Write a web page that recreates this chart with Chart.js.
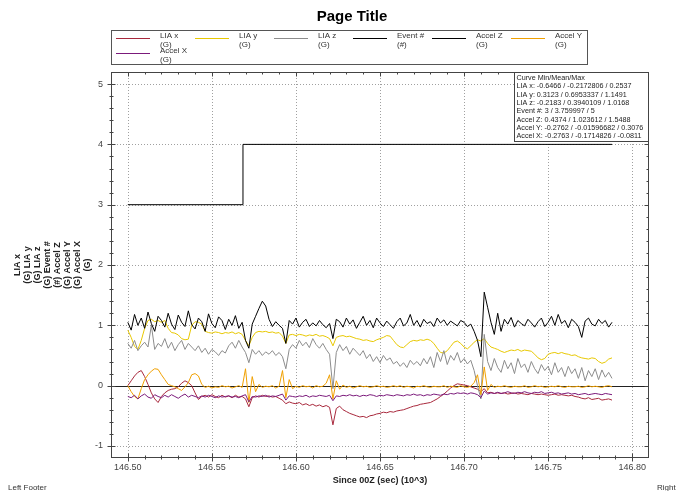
<!DOCTYPE html>
<html><head><meta charset="utf-8">
<script src="https://cdn.jsdelivr.net/npm/chart.js@4/dist/chart.umd.min.js"></script>
<style>html,body{margin:0;padding:0;background:#fff;overflow:hidden}canvas{display:block}</style>
</head><body>
<canvas id="c" width="678" height="491"></canvas>
<script>
const times = [
146.500,146.502,146.504,146.506,146.508,146.510,146.512,146.514,146.516,146.518,
146.520,146.522,146.524,146.526,146.528,146.530,146.532,146.534,146.536,146.538,
146.540,146.542,146.544,146.546,146.548,146.550,146.552,146.554,146.556,146.558,
146.560,146.562,146.564,146.566,146.568,146.570,146.572,146.574,146.576,146.578,
146.580,146.582,146.584,146.586,146.588,146.590,146.592,146.594,146.596,146.598,
146.600,146.602,146.604,146.606,146.608,146.610,146.612,146.614,146.616,146.618,
146.620,146.622,146.624,146.626,146.628,146.630,146.632,146.634,146.636,146.638,
146.640,146.642,146.644,146.646,146.648,146.650,146.652,146.654,146.656,146.658,
146.660,146.662,146.664,146.666,146.668,146.670,146.672,146.674,146.676,146.678,
146.680,146.682,146.684,146.686,146.688,146.690,146.692,146.694,146.696,146.698,
146.700,146.702,146.704,146.706,146.708,146.710,146.712,146.714,146.716,146.718,
146.720,146.722,146.724,146.726,146.728,146.730,146.732,146.734,146.736,146.738,
146.740,146.742,146.744,146.746,146.748,146.750,146.752,146.754,146.756,146.758,
146.760,146.762,146.764,146.766,146.768,146.770,146.772,146.774,146.776,146.778,
146.780,146.782,146.784,146.786,146.788];

const liaX = [
0.00,0.08,0.16,0.22,0.25,0.15,0.02,-0.12,-0.22,-0.28,
-0.18,-0.12,-0.08,-0.06,-0.05,-0.02,0.04,0.08,0.05,0.00,
-0.12,-0.23,-0.18,-0.16,-0.19,-0.15,-0.18,-0.20,-0.16,-0.19,
-0.17,-0.20,-0.16,-0.19,-0.18,-0.22,-0.35,-0.20,-0.17,-0.19,
-0.16,-0.18,-0.17,-0.19,-0.18,-0.21,-0.24,-0.30,-0.27,-0.29,
-0.30,-0.28,-0.32,-0.30,-0.33,-0.31,-0.34,-0.32,-0.35,-0.33,
-0.36,-0.65,-0.38,-0.34,-0.40,-0.43,-0.46,-0.48,-0.50,-0.52,
-0.51,-0.53,-0.50,-0.49,-0.47,-0.46,-0.44,-0.45,-0.43,-0.44,
-0.42,-0.41,-0.40,-0.38,-0.36,-0.34,-0.33,-0.31,-0.30,-0.29,
-0.28,-0.25,-0.22,-0.18,-0.14,-0.09,-0.04,0.00,0.03,0.02,
0.01,0.00,-0.02,-0.04,-0.06,-0.10,-0.05,-0.12,-0.11,-0.13,
-0.12,-0.13,-0.12,-0.14,-0.13,-0.12,-0.14,-0.13,-0.14,-0.15,
-0.13,-0.14,-0.15,-0.14,-0.15,-0.16,-0.15,-0.14,-0.16,-0.15,
-0.16,-0.17,-0.16,-0.18,-0.19,-0.21,-0.22,-0.20,-0.23,-0.22,
-0.21,-0.24,-0.23,-0.22,-0.24];

const liaY = [
0.92,0.80,0.65,0.60,0.75,0.95,1.08,1.10,1.06,1.08,
1.05,1.08,0.95,0.88,0.87,0.84,0.78,0.76,0.77,1.00,
1.06,1.05,1.02,0.90,0.88,0.87,0.89,0.88,0.86,0.88,
0.87,0.89,0.86,0.88,0.85,0.75,0.66,0.80,0.88,0.90,
0.89,0.90,0.88,0.89,0.87,0.88,0.82,0.70,0.84,0.85,
0.83,0.85,0.84,0.82,0.84,0.83,0.85,0.82,0.83,0.81,
0.78,0.66,0.80,0.82,0.83,0.81,0.82,0.80,0.78,0.77,
0.75,0.76,0.74,0.73,0.76,0.78,0.80,0.83,0.82,0.75,
0.68,0.64,0.63,0.68,0.73,0.75,0.74,0.76,0.75,0.77,
0.75,0.70,0.62,0.55,0.54,0.58,0.65,0.72,0.74,0.70,
0.64,0.61,0.66,0.72,0.76,0.74,0.78,0.70,0.64,0.62,
0.60,0.57,0.55,0.57,0.59,0.58,0.60,0.57,0.59,0.58,
0.57,0.52,0.46,0.43,0.45,0.52,0.54,0.55,0.53,0.55,
0.53,0.52,0.50,0.51,0.48,0.46,0.45,0.44,0.46,0.45,
0.40,0.37,0.39,0.44,0.46];

const liaZ = [
0.70,0.62,0.75,0.58,0.66,0.72,0.64,1.00,0.60,0.70,
0.65,0.78,0.62,0.72,0.58,0.68,0.75,0.60,0.70,0.64,
0.58,0.66,0.55,0.62,0.52,0.60,0.56,0.50,0.58,0.54,
0.66,0.72,0.62,0.75,0.64,0.55,0.38,0.60,0.52,0.58,
0.50,0.56,0.52,0.58,0.50,0.55,0.48,0.28,0.60,0.68,
0.62,0.75,0.66,0.72,0.63,0.78,0.68,0.62,0.70,0.60,
0.52,-0.05,0.55,0.68,0.58,0.65,0.52,0.62,0.56,0.50,
0.58,0.45,0.52,0.40,0.48,0.38,0.50,0.42,0.46,0.36,
0.40,0.32,0.38,0.30,0.42,0.35,0.40,0.33,0.45,0.36,
0.48,0.30,0.55,0.40,0.58,0.35,0.50,0.42,0.55,0.38,
0.45,0.36,0.42,0.25,0.00,-0.22,0.85,0.40,0.25,0.45,
0.30,0.22,0.42,0.28,0.38,0.20,0.45,0.30,0.36,0.22,
0.40,0.28,0.20,0.35,0.25,0.32,0.18,0.38,0.22,0.30,
0.15,0.32,0.20,0.28,0.12,0.30,0.08,0.25,0.15,0.28,
0.10,0.26,0.14,0.22,0.12];

const eventTimes = [146.500, 146.5685, 146.788];
const eventValues = [3, 4, 4];

const accelZ = [
1.05,0.92,1.18,1.00,1.12,0.95,1.22,1.03,0.90,1.15,
1.08,0.97,1.20,1.02,0.93,1.17,1.05,0.98,1.24,1.01,
0.94,1.12,1.06,0.90,1.19,1.03,0.96,1.14,1.08,0.93,
1.10,1.00,1.16,0.95,1.05,0.75,0.62,1.02,1.15,1.28,
1.40,1.32,1.10,0.98,1.06,1.00,0.95,0.70,1.08,1.02,
1.12,0.97,1.05,1.10,0.98,1.04,0.99,1.08,1.01,0.96,
1.03,0.78,1.10,1.06,0.97,1.12,1.02,1.09,0.95,1.05,
1.15,1.00,1.08,0.96,1.12,1.04,0.98,1.07,1.01,0.95,
1.06,1.12,0.99,1.04,1.18,1.00,1.08,0.97,1.10,1.03,
1.06,0.98,1.12,1.04,1.09,1.00,1.07,1.03,0.99,1.08,
1.05,0.98,1.02,0.90,0.75,0.48,1.55,1.30,1.05,0.85,
1.20,0.90,1.10,1.02,1.13,0.97,1.08,1.03,0.99,1.10,
1.04,0.97,1.06,1.12,0.98,1.05,1.15,1.00,1.18,1.03,
1.08,0.96,1.10,1.05,0.98,0.80,1.07,1.12,1.02,0.99,
1.10,1.03,1.08,0.97,1.05];

const accelY = [
0.00,-0.10,-0.18,-0.22,-0.05,0.10,0.18,0.24,0.28,0.27,
0.18,0.10,0.02,0.00,-0.02,-0.05,-0.08,-0.02,0.05,0.18,
0.20,0.16,0.02,-0.03,-0.01,-0.04,-0.02,-0.03,0.00,-0.02,
-0.01,-0.04,-0.02,0.00,-0.03,0.28,-0.28,0.15,-0.10,0.02,
-0.03,-0.01,-0.02,0.00,-0.04,-0.01,0.25,-0.20,0.10,-0.05,
-0.01,-0.03,0.00,-0.02,-0.01,-0.04,0.00,-0.02,-0.01,0.04,
0.18,-0.22,0.08,-0.06,0.01,-0.03,-0.01,-0.04,-0.02,0.00,
-0.02,-0.01,-0.03,-0.02,0.00,-0.02,-0.01,-0.03,-0.02,0.00,
-0.02,0.00,-0.03,-0.01,-0.02,-0.04,-0.01,-0.02,0.00,-0.02,
-0.03,-0.01,-0.02,-0.02,0.00,-0.03,-0.01,-0.02,-0.03,0.00,
-0.02,-0.03,-0.01,0.05,0.18,-0.15,0.31,-0.08,0.02,-0.03,
-0.01,-0.02,0.00,-0.02,-0.03,-0.01,-0.02,-0.02,0.00,-0.03,
-0.02,0.00,-0.02,-0.01,-0.03,-0.02,-0.01,-0.02,0.00,-0.02,
-0.03,-0.01,-0.02,-0.02,-0.01,-0.03,-0.02,0.00,-0.02,-0.01,
-0.02,-0.03,-0.01,0.00,-0.02];

const accelX = [
-0.18,-0.20,-0.16,-0.22,-0.17,-0.14,-0.19,-0.21,-0.15,-0.18,
-0.20,-0.16,-0.19,-0.15,-0.18,-0.21,-0.17,-0.14,-0.19,-0.16,
-0.18,-0.20,-0.17,-0.19,-0.16,-0.18,-0.20,-0.17,-0.19,-0.18,
-0.17,-0.19,-0.18,-0.20,-0.17,-0.15,-0.27,-0.18,-0.19,-0.17,
-0.18,-0.16,-0.19,-0.17,-0.18,-0.16,-0.14,-0.24,-0.17,-0.18,
-0.19,-0.17,-0.18,-0.16,-0.19,-0.17,-0.18,-0.16,-0.17,-0.18,
-0.16,-0.25,-0.17,-0.18,-0.16,-0.17,-0.15,-0.17,-0.16,-0.18,
-0.16,-0.17,-0.15,-0.16,-0.18,-0.16,-0.17,-0.15,-0.16,-0.17,
-0.15,-0.16,-0.17,-0.15,-0.16,-0.14,-0.16,-0.15,-0.17,-0.15,
-0.16,-0.14,-0.15,-0.16,-0.14,-0.15,-0.13,-0.14,-0.12,-0.13,
-0.12,-0.14,-0.12,-0.13,-0.15,-0.20,-0.09,-0.14,-0.12,-0.13,
-0.11,-0.13,-0.12,-0.10,-0.12,-0.13,-0.11,-0.12,-0.10,-0.12,
-0.13,-0.11,-0.12,-0.10,-0.13,-0.12,-0.11,-0.13,-0.12,-0.14,
-0.13,-0.12,-0.14,-0.13,-0.15,-0.14,-0.13,-0.15,-0.14,-0.13,
-0.14,-0.15,-0.13,-0.14,-0.15];

const xTickValues = [146.50,146.55,146.60,146.65,146.70,146.75,146.80];
const yTickValues = [-1,0,1,2,3,4,5];
const seriesNames = ['LIA x','LIA y','LIA z','Event #','Accel Z','Accel Y','Accel X'];
const seriesUnits = ['(G)','(G)','(G)','(#)','(G)','(G)','(G)'];
const seriesColors = ['#a8283c','#e8c800','#8c8c8c','#000000','#000000','#f0a000','#7b1a7b'];
const yTitleLines = ['LIA x','(G) LIA y','(G) LIA z','(G) Event #','(#) Accel Z','(G) Accel Y','(G) Accel X','(G)'];
const xTitle = 'Since 00Z (sec) (10^3)';
const pageTitle = 'Page Title';
const leftFooter = 'Left Footer';
const rightFooter = 'Right Footer';
const statsLines = [
'Curve Min/Mean/Max',
'LIA x: -0.6466 / -0.2172806 / 0.2537',
'LIA y: 0.3123 / 0.6953337 / 1.1491',
'LIA z: -0.2183 / 0.3940109 / 1.0168',
'Event #: 3 / 3.759997 / 5',
'Accel Z: 0.4374 / 1.023612 / 1.5488',
'Accel Y: -0.2762 / -0.01596682 / 0.3076',
'Accel X: -0.2763 / -0.1714826 / -0.0811'];

const FONT = '"Liberation Sans", Arial, sans-serif';
const valueSets = [liaX, liaY, liaZ, null, accelZ, accelY, accelX];

const datasets = seriesNames.map((name, k) => {
  let data;
  if (k === 3) data = eventTimes.map((t, i) => ({x: t, y: eventValues[i]}));
  else data = times.map((t, i) => ({x: t, y: valueSets[k][i]}));
  return {
    label: name, data, borderColor: seriesColors[k], backgroundColor: seriesColors[k],
    borderWidth: 1, pointRadius: 0, tension: 0, fill: false,
    stepped: k === 3 ? 'before' : false, order: 7 - k
  };
});

const decor = {
  id: 'decor',
  beforeDatasetsDraw(chart) {
    const ctx = chart.ctx, a = chart.chartArea, xs = chart.scales.x, ys = chart.scales.y;
    ctx.save();
    ctx.strokeStyle = '#a0a0a0'; ctx.lineWidth = 1; ctx.setLineDash([1, 2]);
    xTickValues.forEach(v => { const p = Math.round(xs.getPixelForValue(v)) + 0.5;
      ctx.beginPath(); ctx.moveTo(p, a.top); ctx.lineTo(p, a.bottom); ctx.stroke(); });
    yTickValues.forEach(v => { if (v === 0) return; const p = Math.round(ys.getPixelForValue(v)) + 0.5;
      ctx.beginPath(); ctx.moveTo(a.left, p); ctx.lineTo(a.right, p); ctx.stroke(); });
    ctx.setLineDash([]);
    ctx.strokeStyle = '#222';
    const z = Math.round(ys.getPixelForValue(0)) + 0.5;
    ctx.beginPath(); ctx.moveTo(a.left, z); ctx.lineTo(a.right, z); ctx.stroke();
    ctx.restore();
  },
  afterDatasetsDraw(chart) {
    const ctx = chart.ctx, a = chart.chartArea, xs = chart.scales.x, ys = chart.scales.y;
    ctx.save();
    ctx.strokeStyle = '#444'; ctx.lineWidth = 1;
    const L = Math.round(a.left) + 0.5, R = Math.round(a.right) - 0.5, T = Math.round(a.top) + 0.5, B = Math.round(a.bottom) - 0.5;
    ctx.strokeRect(L, T, R - L, B - T);
    ctx.beginPath();
    for (let i = 0; i < xTickValues.length; i++) {
      const p = Math.round(xs.getPixelForValue(xTickValues[i])) + 0.5;
      ctx.moveTo(p, B + 4); ctx.lineTo(p, B - 4); ctx.moveTo(p, T); ctx.lineTo(p, T + 4);
    }
    const xStep = (xTickValues[1] - xTickValues[0]) / 5;
    for (let v = xTickValues[0] - xStep; v > xs.min; v -= xStep) {
      const p = Math.round(xs.getPixelForValue(v)) + 0.5; ctx.moveTo(p, B + 2); ctx.lineTo(p, B - 2); ctx.moveTo(p, T); ctx.lineTo(p, T + 2);
    }
    for (let i = 0; i < xTickValues.length; i++) for (let j = 1; j < 5; j++) {
      const v = xTickValues[i] + j * xStep; if (v >= xs.max) continue;
      const p = Math.round(xs.getPixelForValue(v)) + 0.5; ctx.moveTo(p, B + 2); ctx.lineTo(p, B - 2); ctx.moveTo(p, T); ctx.lineTo(p, T + 2);
    }
    const yStep = (yTickValues[1] - yTickValues[0]) / 5;
    for (let i = 0; i < yTickValues.length; i++) {
      const p = Math.round(ys.getPixelForValue(yTickValues[i])) + 0.5;
      ctx.moveTo(L - 4, p); ctx.lineTo(L + 4, p); ctx.moveTo(R, p); ctx.lineTo(R - 4, p);
    }
    for (let v = yTickValues[0] - yStep; v > ys.min; v -= yStep) {
      const p = Math.round(ys.getPixelForValue(v)) + 0.5; ctx.moveTo(L - 2, p); ctx.lineTo(L + 2, p); ctx.moveTo(R, p); ctx.lineTo(R - 2, p);
    }
    for (let i = 0; i < yTickValues.length; i++) for (let j = 1; j < 5; j++) {
      const v = yTickValues[i] + j * yStep; if (v >= ys.max) continue;
      const p = Math.round(ys.getPixelForValue(v)) + 0.5; ctx.moveTo(L - 2, p); ctx.lineTo(L + 2, p); ctx.moveTo(R, p); ctx.lineTo(R - 2, p);
    }
    ctx.stroke();
    const bx = 514.5, by = T, bw = R - 514.5, bh = 69;
    ctx.fillStyle = '#fff'; ctx.fillRect(bx, by, bw, bh);
    ctx.strokeStyle = '#444'; ctx.strokeRect(bx, by, bw, bh);
    ctx.fillStyle = '#222'; ctx.font = '7.2px ' + FONT; ctx.textBaseline = 'alphabetic'; ctx.textAlign = 'left';
    statsLines.forEach((s, i) => ctx.fillText(s, 516.5, by + 7.5 + i * 8.3));
    ctx.restore();
  },
  afterDraw(chart) {
    const ctx = chart.ctx;
    ctx.save();
    ctx.fillStyle = '#000'; ctx.font = 'bold 15px ' + FONT; ctx.textAlign = 'center'; ctx.textBaseline = 'alphabetic';
    ctx.fillText(pageTitle, 352, 21);
    ctx.strokeStyle = '#555'; ctx.lineWidth = 1;
    ctx.strokeRect(111.5, 30.5, 476, 34);
    ctx.font = '8px ' + FONT; ctx.textAlign = 'left'; ctx.fillStyle = '#333';
    seriesNames.forEach((name, k) => {
      const col = k % 6, row = Math.floor(k / 6);
      const x0 = 116 + col * 79, y0 = 38.5 + row * 15;
      ctx.strokeStyle = seriesColors[k];
      ctx.beginPath(); ctx.moveTo(x0, y0); ctx.lineTo(x0 + 34, y0); ctx.stroke();
      ctx.fillText(name, x0 + 44, y0 - 0.5);
      ctx.fillText(seriesUnits[k], x0 + 44, y0 + 8.5);
    });
    ctx.fillStyle = '#333';
    ctx.fillText(leftFooter, 8, 490);
    ctx.fillText(rightFooter, 657, 490);
    ctx.restore();
  }
};

new Chart(document.getElementById('c'), {
  type: 'line',
  data: { datasets },
  plugins: [decor],
  options: {
    responsive: false, animation: false, devicePixelRatio: 1,
    layout: { padding: { left: 0, top: 72, right: 29, bottom: 0 } },
    plugins: { legend: { display: false }, title: { display: false }, tooltip: { enabled: false } },
    scales: {
      x: {
        type: 'linear', min: 146.49, max: 146.81,
        afterBuildTicks: s => { s.ticks = xTickValues.map(v => ({value: v})); },
        afterFit: s => { s.height = 33; },
        grid: { display: false, drawTicks: false }, border: { display: false },
        ticks: { padding: 4, color: '#444', font: { family: FONT, size: 9 }, callback: v => Number(v).toFixed(2), maxRotation: 0, autoSkip: false },
        title: { display: true, text: xTitle, color: '#222', font: { family: FONT, size: 9, weight: 'bold' }, padding: { top: 0, bottom: 5 } }
      },
      y: {
        type: 'linear', min: -1.2, max: 5.2,
        afterBuildTicks: s => { s.ticks = yTickValues.map(v => ({value: v})); },
        afterFit: s => { s.width = 111; },
        grid: { display: false, drawTicks: false }, border: { display: false },
        ticks: { padding: 8, color: '#444', font: { family: FONT, size: 9 }, autoSkip: false },
        title: { display: true, text: yTitleLines, color: '#222', font: { family: FONT, size: 9, weight: 'bold', lineHeight: 1.1 }, padding: { top: 13, bottom: 0 } }
      }
    }
  }
});
</script>
</body></html>
